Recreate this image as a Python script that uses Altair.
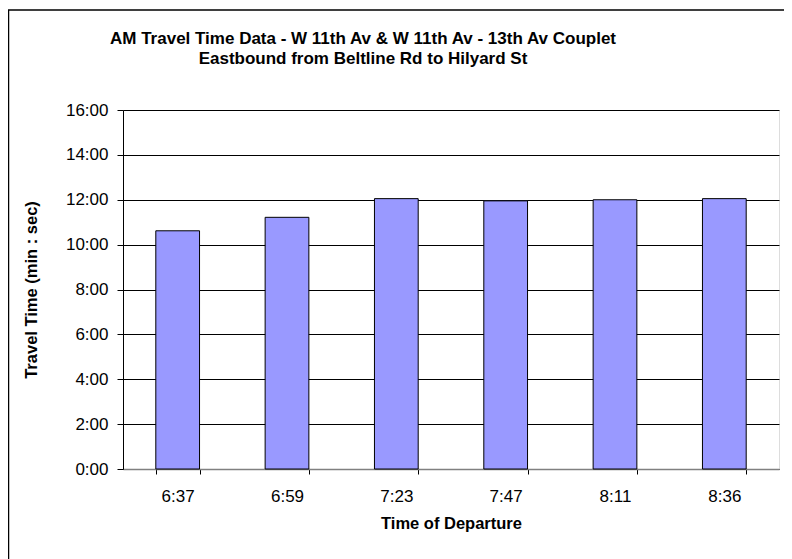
import altair as alt
import pandas as pd

departures = ["6:37", "6:59", "7:23", "7:47", "8:11", "8:36"]
travel_seconds = [637, 673, 723, 717, 720, 723]
title_lines = ["AM Travel Time Data - W 11th Av & W 11th Av - 13th Av Couplet",
               "Eastbound from Beltline Rd to Hilyard St"]

df = pd.DataFrame({"dep": departures, "secs": travel_seconds})
title_df = pd.DataFrame({"line": title_lines, "row": [0, 1]})

FONT = "Liberation Sans"
base = alt.Chart(df)

bars = base.mark_bar(color="#9999FF", stroke="#000000", strokeWidth=1).encode(
    x=alt.X("dep:N", sort=departures,
            scale=alt.Scale(paddingInner=0.6, paddingOuter=0.3),
            axis=alt.Axis(title="Time of Departure", labelAngle=0, tickBand="extent",
                          labelPadding=14, titlePadding=11, domainColor="#808080",
                          domainWidth=1.5,
                          tickColor="#000000", tickSize=5, labelFontSize=17,
                          titleFontSize=16.5, titleFontWeight="bold",
                          labelFont=FONT, titleFont=FONT,
                          labelColor="#000000", titleColor="#000000")),
    y=alt.Y("secs:Q", scale=alt.Scale(domain=[0, 960], nice=False),
            axis=alt.Axis(title="Travel Time (min : sec)", values=list(range(0, 961, 120)),
                          labelExpr="floor(datum.value/60) + ':' + (datum.value%60 < 10 ? '0' : '') + (datum.value%60)",
                          grid=True, gridColor="#000000", gridWidth=1,
                          domainColor="#000000", tickColor="#000000", tickSize=6,
                          labelPadding=9, titlePadding=26, labelFontSize=17,
                          titleFontSize=16.5, titleFontWeight="bold",
                          labelFont=FONT, titleFont=FONT,
                          labelColor="#000000", titleColor="#000000")),
)

border = base.mark_rect(fill=None, stroke="#000000", strokeWidth=1.5, clip=False).encode(
    x=alt.value(-114.5), x2=alt.value(700), y=alt.value(-100), y2=alt.value(520)
).transform_filter("datum.dep == '6:37'")


def title_line(row, ypix):
    return alt.Chart(title_df).transform_filter(f"datum.row == {row}").mark_text(
        font=FONT, fontSize=17, fontWeight="bold", color="#000000",
        align="center", baseline="middle", clip=False,
    ).encode(text="line:N", x=alt.value(240), y=alt.value(ypix))


chart = alt.layer(bars, border, title_line(0, -71), title_line(1, -51)).properties(
    width=656, height=359,
    padding={"left": 115, "top": 102, "right": 5, "bottom": 95},
    autosize=alt.AutoSizeParams(type="none"),
).configure_view(stroke="#808080", strokeWidth=1.5).configure(background="white")

chart.save("out.html", embed_options={"renderer": "svg", "actions": False})
